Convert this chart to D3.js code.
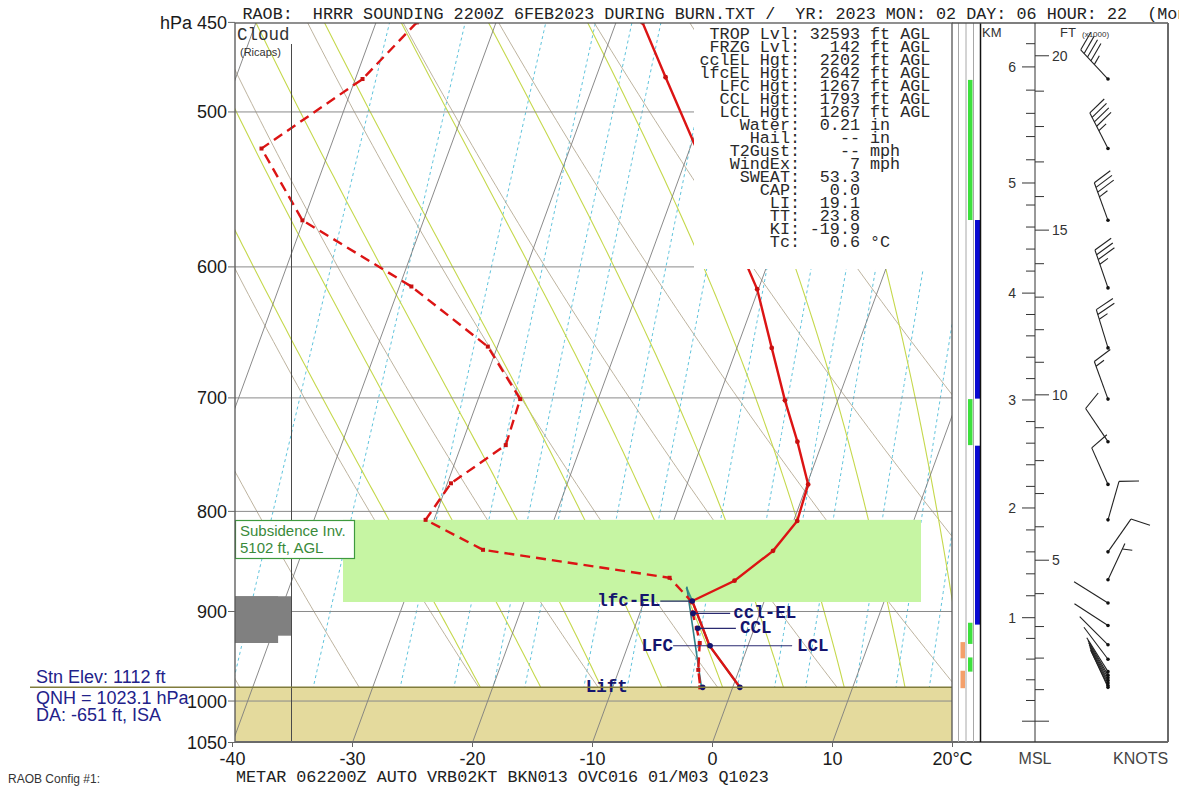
<!DOCTYPE html>
<html><head><meta charset="utf-8">
<script src="https://cdn.jsdelivr.net/npm/d3@7"></script>
<style>
html,body{margin:0;padding:0;background:#fff;overflow:hidden}
svg{display:block}
text{font-family:Arial,"Liberation Sans",sans-serif}
.mono, .mono text{font-family:"Courier New","Liberation Mono",monospace}
</style></head><body>
<script>
// skew-T sounding, RAOB style
const W = 1179, H = 787;

// ── data ───────────────────────────────────────────────────────────────
const pTicks = [450, 500, 600, 700, 800, 900, 1000, 1050];
const isobars = [500, 600, 700, 800, 900, 1000];
const tTicks = [-40, -30, -20, -10, 0, 10];

const tempP = [450, 480, 616, 660, 702, 737, 775, 809, 838, 868, 889, 937, 984];
const tempT = [-27.8, -24.2, -10.1, -7.1, -4.4, -2.1, 0.1, 0.3, -0.8, -3.1, -6.0, -3.2, 0.6];

const dewP = [450, 481, 522, 568, 614, 659, 701, 740, 774, 808, 837, 865, 889, 902, 918, 934, 964, 984];
const dewT = [-46.6, -49.4, -55.7, -50.1, -39.0, -30.8, -26.5, -26.3, -29.7, -30.7, -25.0, -8.6, -6.1, -5.6, -4.8, -4.1, -3.4, -2.7];

const parcelP = [984, 937, 889, 875];
const parcelT = [0.6, -3.2, -6.0, -6.9];
const cclLineP = [984, 874];
const cclLineT = [-2.6, -6.9];

const markNames = ["lfc-EL", "ccl-EL", "CCL", "LCL", "Lift", "LiftTd"];
const markP = [889, 902, 918, 937, 984, 984];
const markT = [-6.0, -5.55, -4.7, -3.15, 0.6, -2.5];

const surfaceP = 984;
const subsidenceTop = 808, subsidenceBase = 890;
const cloudTop = [884, 884], cloudBase = [934, 926], cloudCover = [0.77, 1.0];

const dryThetasC = d3.range(-40, 200, 10);   // potential temperature, °C
const moistStarts = d3.range(-20, 45, 5);    // wet-bulb potential temperature, °C
const mixRatios = [0.1, 0.2, 0.4, 0.6, 0.8, 1, 1.5, 2, 3, 4, 5, 6, 8, 10, 12, 14, 16, 20];

const statLabels = ["TROP Lvl:", "FRZG Lvl:", "cclEL Hgt:", "lfcEL Hgt:", "LFC Hgt:", "CCL Hgt:", "LCL Hgt:",
  "Water:", "Hail:", "T2Gust:", "WindEx:", "SWEAT:", "CAP:", "LI:", "TT:", "KI:", "Tc:"];
const statValues = ["32593", "142", "2202", "2642", "1267", "1793", "1267", "0.21", "--", "--", "7",
  "53.3", "0.0", "19.1", "23.8", "-19.9", "0.6"];
const statUnits = ["ft AGL", "ft AGL", "ft AGL", "ft AGL", "ft AGL", "ft AGL", "ft AGL", "in", "in", "mph", "mph",
  "", "", "", "", "", "°C"];

const windP = [481, 522, 568, 615, 660, 701, 737, 775, 808, 839, 867, 891, 915, 936, 952, 966, 970, 973, 976, 979, 982, 984];
const windDir = [317, 333, 340, 341, 343, 340, 326, 336, 16, 35, 25, 302, 303, 315, 323, 328, 330, 331, 332, 333, 334, 335];
const windSpd = [45, 45, 35, 35, 25, 15, 10, 10, 10, 10, 5, 2, 2, 2, 2, 2, 2, 2, 2, 2, 2, 2];

const kmHeights = [0, 1, 2, 3, 4, 5, 6];
const kmPressure = [1024, 906.6, 796.8, 701.7, 618.8, 543.6, 474.2];

const greenLayers = [[481.5, 567.8], [701, 740], [912, 935], [950, 966]];
const blueLayers = [[567.8, 700.6], [740.5, 914]];
const orangeLayers = [[933, 951], [965, 985]];

const title = "RAOB:  HRRR SOUNDING 2200Z 6FEB2023 DURING BURN.TXT /  YR: 2023 MON: 02 DAY: 06 HOUR: 22  (Mon)";
const metar = "METAR 062200Z AUTO VRB02KT BKN013 OVC016 01/M03 Q1023";

// ── scales ─────────────────────────────────────────────────────────────
const PL = 235, PR = 952, PT = 23, PB = 742;
const y = d3.scaleLog().domain([450, 1050]).range([22.4, 742.5]);
const tx = d3.scaleLinear().domain([-40, 20]).range([232.5, 952.5]);
const SKEW = 0.366;
const sx = (T, p) => tx(T) + SKEW * (y(1050) - y(p));
const line = d3.line().x(d => sx(d[1], d[0])).y(d => y(d[0]));
const kmY = d3.scaleLinear().domain(kmHeights).range(kmPressure.map(p => y(p)));

const svg = d3.select("body").append("svg").attr("width", W).attr("height", H);
svg.append("rect").attr("width", W).attr("height", H).attr("fill", "#fff");
svg.append("clipPath").attr("id", "plotclip").append("rect")
  .attr("x", PL).attr("y", PT).attr("width", PR - PL).attr("height", PB - PT);
const plot = svg.append("g").attr("clip-path", "url(#plotclip)");

// ── thermo helpers ─────────────────────────────────────────────────────
const pLevels = d3.range(1050, 445, -5);
function satVap(Tc) { return 6.112 * Math.exp(17.67 * Tc / (Tc + 243.5)); }
function dewFromW(w, p) {
  const e = w * p / (622 + w);
  const l = Math.log(e / 6.112);
  return 243.5 * l / (17.67 - l);
}
function moistRate(p, TK) {
  const Rd = 287.04, Cp = 1005.7, Lv = 2.501e6, eps = 0.622;
  const es = satVap(TK - 273.15);
  const rs = eps * es / (p - es);
  return (1 / p) * (Rd * TK + Lv * rs) / (Cp + (Lv * Lv * rs * eps) / (Rd * TK * TK));
}
function moistPath(T0) {
  const up = [], down = [];
  let T = T0 + 273.15;
  for (let p = 1000; p >= 445; p -= 5) {
    up.push([p, T - 273.15]);
    const k1 = moistRate(p, T), k2 = moistRate(p - 2.5, T - 2.5 * k1);
    T -= 5 * k2;
  }
  T = T0 + 273.15;
  for (let p = 1000; p <= 1055; p += 5) {
    down.push([p, T - 273.15]);
    const k1 = moistRate(p, T), k2 = moistRate(p + 2.5, T + 2.5 * k1);
    T += 5 * k2;
  }
  return down.reverse().concat(up.slice(1));
}

// ── background lines ───────────────────────────────────────────────────
const bg = plot.append("g");
mixRatios.forEach(w => {
  bg.append("path").attr("d", line(pLevels.map(p => [p, dewFromW(w, p)])))
    .attr("fill", "none").attr("stroke", "#5ec3dc").attr("stroke-width", 1)
    .attr("stroke-dasharray", "3,3");
});
dryThetasC.forEach(th => {
  const thK = th + 273.15;
  bg.append("path").attr("d", line(pLevels.map(p => [p, thK * Math.pow(p / 1000, 0.2857) - 273.15])))
    .attr("fill", "none").attr("stroke", "#b5aa94").attr("stroke-width", 0.9);
});
moistStarts.forEach(t0 => {
  bg.append("path").attr("d", line(moistPath(t0)))
    .attr("fill", "none").attr("stroke", "#c5d84c").attr("stroke-width", 1.1);
});

// ground
plot.append("rect").attr("x", PL).attr("y", y(surfaceP)).attr("width", PR - PL)
  .attr("height", PB - y(surfaceP)).attr("fill", "#e4da9d");

// isotherms + isobars
d3.range(-110, 30, 10).forEach(T => {
  plot.append("line").attr("x1", sx(T, 1050)).attr("y1", y(1050))
    .attr("x2", sx(T, 450)).attr("y2", y(450))
    .attr("stroke", "#7d7d7d").attr("stroke-width", 0.9);
});
isobars.forEach(p => {
  plot.append("line").attr("x1", PL).attr("x2", PR).attr("y1", y(p)).attr("y2", y(p))
    .attr("stroke", "#8a8a8a").attr("stroke-width", 1);
});

// subsidence inversion
plot.append("rect").attr("x", 343).attr("y", y(subsidenceTop)).attr("width", 921 - 343)
  .attr("height", y(subsidenceBase) - y(subsidenceTop)).attr("fill", "#c6f5a3");

// profiles
const prof = plot.append("g");
prof.append("path").attr("d", line(parcelP.map((p, i) => [p, parcelT[i]])))
  .attr("fill", "none").attr("stroke", "#3a9a86").attr("stroke-width", 2);
prof.append("path").attr("d", line(cclLineP.map((p, i) => [p, cclLineT[i]])))
  .attr("fill", "none").attr("stroke", "#2f7f86").attr("stroke-width", 1.6);

const tempPts = tempP.map((p, i) => [p, tempT[i]]);
prof.append("path").attr("d", line(tempPts)).attr("fill", "none")
  .attr("stroke", "#dc1414").attr("stroke-width", 2.4);
prof.selectAll(".td").data(tempPts).join("circle")
  .attr("cx", d => sx(d[1], d[0])).attr("cy", d => y(d[0])).attr("r", 2.4).attr("fill", "#c81010");

const dewPts = dewP.map((p, i) => [p, dewT[i]]);
prof.append("path").attr("d", line(dewPts)).attr("fill", "none")
  .attr("stroke", "#dc1414").attr("stroke-width", 2.4).attr("stroke-dasharray", "10,6");
prof.selectAll(".dd").data(dewPts).join("rect")
  .attr("x", d => sx(d[1], d[0]) - 2).attr("y", d => y(d[0]) - 2).attr("width", 4).attr("height", 4)
  .attr("fill", "#c81010");

// parcel level markers
const navy = "#14146e";
const mk = {};
markNames.forEach((n, i) => { mk[n] = [sx(markT[i], markP[i]), y(markP[i])]; });
const lab = svg.append("g").attr("class", "mono").attr("font-size", 17.5).attr("font-weight", "bold")
  .attr("fill", navy);
function hline(x1, x2, yy) {
  prof.append("line").attr("x1", x1).attr("x2", x2).attr("y1", yy).attr("y2", yy)
    .attr("stroke", "#2a2a70").attr("stroke-width", 1.2);
}
hline(mk["lfc-EL"][0] - 32, mk["lfc-EL"][0], mk["lfc-EL"][1]);
lab.append("text").attr("x", mk["lfc-EL"][0] - 32).attr("y", mk["lfc-EL"][1] + 5).attr("text-anchor", "end").text("lfc-EL");
hline(mk["ccl-EL"][0], mk["ccl-EL"][0] + 37, mk["ccl-EL"][1]);
lab.append("text").attr("x", mk["ccl-EL"][0] + 40).attr("y", mk["ccl-EL"][1] + 5).text("ccl-EL");
hline(mk["CCL"][0], mk["CCL"][0] + 38, mk["CCL"][1]);
lab.append("text").attr("x", mk["CCL"][0] + 42).attr("y", mk["CCL"][1] + 5).text("CCL");
hline(mk["LCL"][0] - 37, mk["LCL"][0] + 82, mk["LCL"][1]);
lab.append("text").attr("x", mk["LCL"][0] - 37).attr("y", mk["LCL"][1] + 5).attr("text-anchor", "end").text("LFC");
lab.append("text").attr("x", mk["LCL"][0] + 87).attr("y", mk["LCL"][1] + 5).text("LCL");
hline(mk["LiftTd"][0] - 36, mk["LiftTd"][0], mk["LiftTd"][1]);
lab.append("text").attr("x", mk["LiftTd"][0] - 75).attr("y", mk["LiftTd"][1] + 5).attr("text-anchor", "end").text("Lift");
markNames.forEach(n => {
  prof.append("circle").attr("cx", mk[n][0]).attr("cy", mk[n][1]).attr("r", 2.8).attr("fill", navy);
});

// stats box
plot.append("rect").attr("x", 694).attr("y", PT).attr("width", PR - 694).attr("height", 269 - PT).attr("fill", "#fff");
const st = svg.append("g").attr("class", "mono").attr("font-size", 16.75).attr("fill", "#2a2a2a");
statLabels.forEach((l, i) => {
  const yy = 39 + i * 13;
  st.append("text").attr("x", 800).attr("y", yy).attr("text-anchor", "end").text(l);
  st.append("text").attr("x", 860).attr("y", yy).attr("text-anchor", "end").text(statValues[i]);
  if (statUnits[i]) st.append("text").attr("x", 870).attr("y", yy).text(statUnits[i]);
});

// cloud column
svg.append("line").attr("x1", 291.5).attr("x2", 291.5).attr("y1", 44).attr("y2", PB)
  .attr("stroke", "#4a4a4a").attr("stroke-width", 1);
cloudTop.forEach((pt, i) => {
  svg.append("rect").attr("x", PL).attr("y", y(pt)).attr("width", (291 - PL) * cloudCover[i])
    .attr("height", y(cloudBase[i]) - y(pt)).attr("fill", "#808080");
});
svg.append("text").attr("class", "mono").attr("x", 237).attr("y", 40).attr("font-size", 17.5)
  .attr("fill", "#333").text("Cloud");
svg.append("text").attr("x", 240).attr("y", 56).attr("font-size", 11).attr("fill", "#333").text("(Ricaps)");

// subsidence label
svg.append("rect").attr("x", 235.5).attr("y", 520.5).attr("width", 119).attr("height", 38)
  .attr("fill", "#fff").attr("stroke", "#3e9a3e").attr("stroke-width", 1.2);
svg.append("text").attr("x", 240).attr("y", 536).attr("font-size", 15).attr("fill", "#3a8a3a").text("Subsidence Inv.");
svg.append("text").attr("x", 240).attr("y", 553).attr("font-size", 15).attr("fill", "#3a8a3a").text("5102 ft, AGL");

// station line & annotations
svg.append("line").attr("x1", 30).attr("x2", PR).attr("y1", y(surfaceP)).attr("y2", y(surfaceP))
  .attr("stroke", "#807c3c").attr("stroke-width", 1.5);
const ann = svg.append("g").attr("font-size", 18).attr("fill", "#22228a");
ann.append("text").attr("x", 36).attr("y", 683).text("Stn Elev: 1112 ft");
ann.append("text").attr("x", 36).attr("y", 704).text("QNH = 1023.1 hPa");
ann.append("text").attr("x", 36).attr("y", 721).text("DA: -651 ft, ISA");

// plot frame
svg.append("rect").attr("x", PL).attr("y", PT).attr("width", PR - PL).attr("height", PB - PT)
  .attr("fill", "none").attr("stroke", "#555").attr("stroke-width", 1.3);
svg.append("line").attr("x1", PL).attr("x2", 1168).attr("y1", PB).attr("y2", PB)
  .attr("stroke", "#6a6a6a").attr("stroke-width", 2);

// y axis labels
const yax = svg.append("g").attr("font-size", 18).attr("fill", "#1a1a1a");
pTicks.forEach(p => {
  svg.append("line").attr("x1", 228).attr("x2", PL).attr("y1", y(p)).attr("y2", y(p))
    .attr("stroke", "#666");
  yax.append("text").attr("x", 227).attr("y", y(p)).attr("dy", "0.36em").attr("text-anchor", "end").text(p);
});
yax.append("text").attr("x", 192).attr("y", y(450)).attr("dy", "0.36em").attr("text-anchor", "end").text("hPa");

// x axis labels
const xax = svg.append("g").attr("font-size", 18).attr("fill", "#1a1a1a");
tTicks.concat([20]).forEach(T => {
  svg.append("line").attr("x1", tx(T)).attr("x2", tx(T)).attr("y1", PB).attr("y2", PB + 5).attr("stroke", "#666");
  xax.append("text").attr("x", tx(T)).attr("y", 765).attr("text-anchor", "middle")
    .text(T === 20 ? "20°C" : T);
});

// title + metar
svg.append("text").attr("class", "mono").attr("x", 242.5).attr("y", 19).attr("font-size", 16.75)
  .attr("fill", "#222").attr("xml:space", "preserve").style("white-space", "pre").text(title);
svg.append("text").attr("class", "mono").attr("x", 236).attr("y", 782).attr("font-size", 16.75)
  .attr("fill", "#222").text(metar);
svg.append("text").attr("x", 8).attr("y", 783).attr("font-size", 12).attr("fill", "#333").text("RAOB Config #1:");

// ── right strips ───────────────────────────────────────────────────────
[958.5, 966, 973.5].forEach(xx => {
  svg.append("line").attr("x1", xx).attr("x2", xx).attr("y1", PT).attr("y2", PB)
    .attr("stroke", "#a8a8a8").attr("stroke-width", 1);
});
orangeLayers.forEach(l => svg.append("rect").attr("x", 960.5).attr("width", 4.5)
  .attr("y", y(l[0])).attr("height", y(l[1]) - y(l[0])).attr("fill", "#f4a06a"));
greenLayers.forEach(l => svg.append("rect").attr("x", 968).attr("width", 4.5)
  .attr("y", y(l[0])).attr("height", y(l[1]) - y(l[0])).attr("fill", "#3ee03e"));
blueLayers.forEach(l => svg.append("rect").attr("x", 975).attr("width", 5)
  .attr("y", y(l[0])).attr("height", y(l[1]) - y(l[0])).attr("fill", "#0a0ad2"));
svg.append("line").attr("x1", 980.5).attr("x2", 980.5).attr("y1", PT).attr("y2", PB)
  .attr("stroke", "#111").attr("stroke-width", 1.5);

// height panel
svg.append("line").attr("x1", PR).attr("x2", 1168).attr("y1", PT).attr("y2", PT).attr("stroke", "#555").attr("stroke-width", 1.3);
svg.append("line").attr("x1", 1168).attr("x2", 1168).attr("y1", PT).attr("y2", PB).attr("stroke", "#6a6a6a").attr("stroke-width", 2);
const AX = 1035;
svg.append("line").attr("x1", AX).attr("x2", AX).attr("y1", PT).attr("y2", PB).attr("stroke", "#333");
const hp = svg.append("g").attr("stroke", "#333").attr("stroke-width", 1);
d3.range(0, 6.3, 0.2).forEach(k => {
  const yy = kmY(k);
  if (yy < PT + 2) return;
  const major = Math.abs(k - Math.round(k)) < 1e-6;
  hp.append("line").attr("x1", major ? 1022 : 1026).attr("x2", AX).attr("y1", yy).attr("y2", yy);
  if (major && k > 0) svg.append("text").attr("x", 1016).attr("y", yy).attr("dy", "0.36em")
    .attr("text-anchor", "end").attr("font-size", 14).attr("fill", "#333").text(Math.round(k));
});
d3.range(0, 21000, 1000).forEach(f => {
  const yy = kmY(f * 0.0003048);
  if (yy < PT + 2) return;
  const major = f % 5000 === 0;
  hp.append("line").attr("x1", AX).attr("x2", major ? 1049 : 1044).attr("y1", yy).attr("y2", yy);
  if (major && f > 0) svg.append("text").attr("x", 1052).attr("y", yy).attr("dy", "0.36em")
    .attr("font-size", 14).attr("fill", "#333").text(f / 1000);
});
svg.append("text").attr("x", 982).attr("y", 37).attr("font-size", 13).attr("fill", "#333").text("KM");
svg.append("text").attr("x", 1060).attr("y", 37).attr("font-size", 13).attr("fill", "#333").text("FT");
svg.append("text").attr("x", 1082).attr("y", 37).attr("font-size", 8).attr("fill", "#333").text("(x1000)");
svg.append("text").attr("x", AX).attr("y", 764).attr("text-anchor", "middle").attr("font-size", 16).attr("fill", "#444").text("MSL");
svg.append("text").attr("x", 1113).attr("y", 764).attr("font-size", 16).attr("fill", "#444").text("KNOTS");

// wind barbs
const wb = svg.append("g").attr("stroke", "#222").attr("stroke-width", 1.1).attr("fill", "none");
const BX = 1108;
windP.forEach((p, i) => {
  const yy = y(p), a = windDir[i] * Math.PI / 180;
  const ux = Math.sin(a), uy = -Math.cos(a), L = 40;
  wb.append("line").attr("x1", BX).attr("y1", yy).attr("x2", BX + ux * L).attr("y2", yy + uy * L);
  svg.append("circle").attr("cx", BX).attr("cy", yy).attr("r", 1.8).attr("fill", "#111");
  const fa = Math.atan2(uy, ux) + 73 * Math.PI / 180;
  const fx = Math.cos(fa), fy = Math.sin(fa);
  let rem = Math.round(windSpd[i] / 5) * 5, pos = 0;
  while (rem >= 10) {
    const px = BX + ux * (L - pos), py = yy + uy * (L - pos);
    wb.append("line").attr("x1", px).attr("y1", py).attr("x2", px + fx * 20).attr("y2", py + fy * 20);
    pos += 5; rem -= 10;
  }
  if (rem >= 5) {
    if (pos === 0) pos = 6;
    const px = BX + ux * (L - pos), py = yy + uy * (L - pos);
    wb.append("line").attr("x1", px).attr("y1", py).attr("x2", px + fx * 10).attr("y2", py + fy * 10);
  }
});
</script>
</body></html>
